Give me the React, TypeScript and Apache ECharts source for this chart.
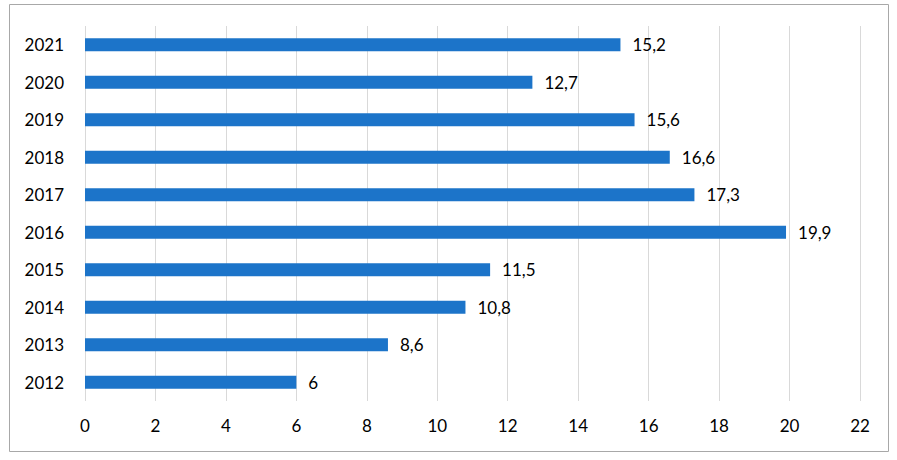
import React, { useEffect, useRef } from "react";
import * as echarts from "echarts";

const years = ["2012", "2013", "2014", "2015", "2016", "2017", "2018", "2019", "2020", "2021"];
const values = [6, 8.6, 10.8, 11.5, 19.9, 17.3, 16.6, 15.6, 12.7, 15.2];
const xMin = 0;
const xMax = 22;
const xStep = 2;

export default function App() {
  const ref = useRef<HTMLDivElement>(null);
  useEffect(() => {
    if (!ref.current) return;
    const chart = echarts.init(ref.current, null, { renderer: "svg" });
    const font = "Lato, 'Open Sans', sans-serif";
    chart.setOption({
      animation: false,
      backgroundColor: "#ffffff",
      textStyle: { fontFamily: font },
      graphic: [
        {
          type: "rect",
          shape: { x: 9.5, y: 4.5, width: 879, height: 447 },
          style: { fill: "none", stroke: "#a8a8a8", lineWidth: 1 },
          silent: true,
        },
      ],
      grid: { left: 85, right: 37, top: 26, bottom: 59 },
      xAxis: {
        type: "value",
        min: xMin,
        max: xMax,
        interval: xStep,
        axisLine: { show: false },
        axisTick: { show: false },
        axisLabel: { color: "#000", fontSize: 17, margin: 16, fontFamily: font },
        splitLine: { show: true, lineStyle: { color: "#d9d9d9", width: 1 } },
      },
      yAxis: {
        type: "category",
        data: years,
        axisLine: { show: false },
        axisTick: { show: false },
        axisLabel: { color: "#000", fontSize: 17, margin: 21, fontFamily: font },
      },
      series: [
        {
          type: "bar",
          data: values,
          barWidth: 13,
          itemStyle: { color: "#1c74c9" },
          label: {
            show: true,
            position: "right",
            distance: 12,
            color: "#000",
            fontSize: 17,
            fontFamily: font,
            formatter: (p: any) => String(p.value).replace(".", ","),
          },
        },
      ],
    });
    return () => chart.dispose();
  }, []);
  return (
    <div
      ref={ref}
      style={{ position: "fixed", left: 0, top: 0, width: 897, height: 460 }}
    />
  );
}
